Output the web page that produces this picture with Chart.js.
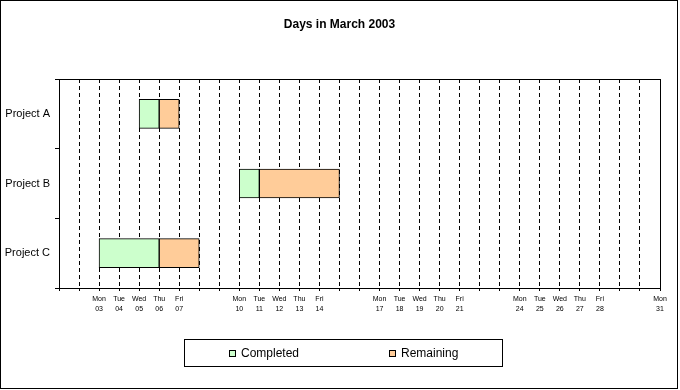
<!DOCTYPE html>
<html>
<head>
<meta charset="utf-8">
<title>Days in March 2003</title>
<script src="https://cdn.jsdelivr.net/npm/chart.js@4.4.1/dist/chart.umd.min.js"></script>
<style>
  html, body { margin: 0; padding: 0; background: #fff; }
  canvas { display: block; }
</style>
</head>
<body>
<canvas id="gantt" width="680" height="390"></canvas>
<script>
// projects and their schedule (days of March 2003)
const projects = ['Project A', 'Project B', 'Project C'];
const startDay = [5, 10, 3];
const completedDays = [1, 1, 3];
const remainingDays = [1, 4, 2];

// x axis tick labels, weekdays only
const tickDays = [3, 4, 5, 6, 7, 10, 11, 12, 13, 14, 17, 18, 19, 20, 21, 24, 25, 26, 27, 28, 31];
const tickWeekdays = ['Mon', 'Tue', 'Wed', 'Thu', 'Fri', 'Mon', 'Tue', 'Wed', 'Thu', 'Fri',
  'Mon', 'Tue', 'Wed', 'Thu', 'Fri', 'Mon', 'Tue', 'Wed', 'Thu', 'Fri', 'Mon'];
const tickDates = ['03', '04', '05', '06', '07', '10', '11', '12', '13', '14',
  '17', '18', '19', '20', '21', '24', '25', '26', '27', '28', '31'];

const firstDay = 1;
const lastDay = 31;

const completedBars = projects.map((p, i) => [startDay[i], startDay[i] + completedDays[i]]);
const remainingBars = projects.map((p, i) => {
  const from = startDay[i] + completedDays[i];
  return [from, from + remainingDays[i]];
});

Chart.defaults.font.family = '"Liberation Sans", Arial, sans-serif';
Chart.defaults.color = '#000';

// outer frame, plot box and the boxed legend
const framePlugin = {
  id: 'frame',
  afterLayout(chart) {
    // title is centred on the whole picture, not the padded area
    chart.titleBlock.right = chart.width - 1;
  },
  beforeDraw(chart) {
    const ctx = chart.ctx;
    ctx.save();
    ctx.fillStyle = '#fff';
    ctx.fillRect(0, 0, chart.width, chart.height);
    ctx.restore();
  },
  afterDraw(chart) {
    const ctx = chart.ctx;
    const area = chart.chartArea;
    ctx.save();
    ctx.strokeStyle = '#000';
    ctx.lineWidth = 1;
    ctx.strokeRect(Math.round(area.left) + 0.5, Math.round(area.top) + 0.5,
      Math.round(area.right - area.left), Math.round(area.bottom - area.top));
    ctx.strokeRect(0.5, 0.5, 677, 388);

    // legend
    ctx.strokeRect(184.5, 339.5, 318, 27);
    const itemX = [229, 389];
    ctx.font = '12px "Liberation Sans", Arial, sans-serif';
    ctx.textBaseline = 'middle';
    ctx.textAlign = 'left';
    chart.data.datasets.forEach((ds, i) => {
      ctx.fillStyle = ds.backgroundColor;
      ctx.fillRect(itemX[i], 350, 7, 7);
      ctx.strokeRect(itemX[i] + 0.5, 350.5, 6, 6);
      ctx.fillStyle = '#000';
      ctx.fillText(ds.label, itemX[i] + 12, 354);
    });
    ctx.restore();
  }
};

new Chart(document.getElementById('gantt').getContext('2d'), {
  type: 'bar',
  data: {
    labels: projects,
    datasets: [
      {
        label: 'Completed',
        data: completedBars,
        backgroundColor: '#CCFFCC',
        borderColor: '#000',
        borderWidth: 1,
        borderSkipped: false,
        grouped: false,
        barThickness: 29
      },
      {
        label: 'Remaining',
        data: remainingBars,
        backgroundColor: '#FFCC99',
        borderColor: '#000',
        borderWidth: 1,
        borderSkipped: false,
        grouped: false,
        barThickness: 29
      }
    ]
  },
  options: {
    indexAxis: 'y',
    responsive: false,
    animation: false,
    layout: { padding: { left: 0, right: 20, top: 0, bottom: 0 } },
    plugins: {
      legend: { display: false },
      tooltip: { enabled: false },
      title: {
        display: true,
        text: 'Days in March 2003',
        color: '#000',
        font: { size: 12, weight: 'bold' },
        padding: { top: 17, bottom: 47.6 }
      }
    },
    scales: {
      x: {
        type: 'linear',
        min: firstDay,
        max: lastDay,
        afterFit: (scale) => { scale.height = 102; },
        ticks: {
          stepSize: 1,
          maxTicksLimit: 40,
          autoSkip: false,
          maxRotation: 0,
          padding: 3,
          color: '#000',
          font: { size: 7, lineHeight: 1.43 },
          callback: (value) => {
            const k = tickDays.indexOf(value);
            return k < 0 ? '' : [tickWeekdays[k], tickDates[k]];
          }
        },
        grid: { color: '#000', lineWidth: 1, tickLength: 3 },
        border: { color: '#000', dash: [4, 3] }
      },
      y: {
        afterFit: (scale) => { scale.width = 59; },
        ticks: { color: '#000', padding: 5, font: { size: 11 } },
        grid: { color: '#000', drawOnChartArea: false, offset: true, tickLength: 4 },
        border: { color: '#000' }
      }
    }
  },
  plugins: [framePlugin]
});
</script>
</body>
</html>
